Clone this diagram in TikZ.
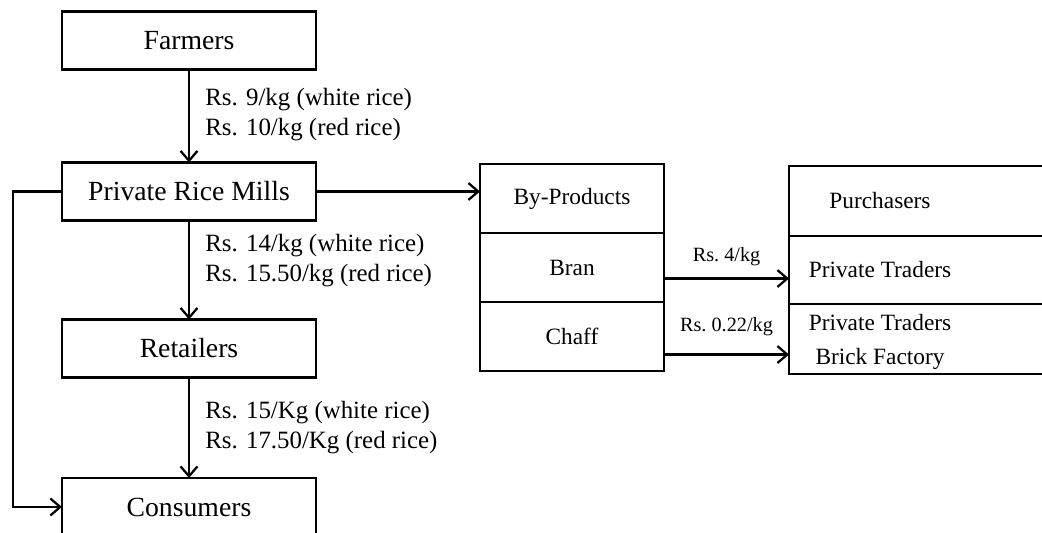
\documentclass[tikz,border=0pt]{standalone}
\usepackage{fontspec}
\setmainfont{Liberation Serif}
\usetikzlibrary{arrows.meta, positioning, calc}

\begin{document}
\begin{tikzpicture}[
    x=0.025cm, y=-0.025cm, % one unit = one pixel of the scan, y runs down
    >={Straight Barb[length=7pt, width=12pt]},
    box/.style={draw, line width=1.7pt, outer sep=0pt, minimum width=6.35cm, minimum height=1.45cm,
        font=\fontsize{19.7}{23}\selectfont},
    cell/.style={draw, line width=1.7pt, outer sep=0pt, minimum width=4.6cm, minimum height=1.725cm,
        font=\fontsize{16.6}{20}\selectfont},
    frame/.style={line width=1.7pt},
    flow/.style={->, line width=1.6pt},
    price/.style={anchor=west, align=left, inner sep=0pt, font=\fontsize{17.7}{21.3}\selectfont},
    small/.style={font=\fontsize{14.4}{17}\selectfont}
]

    % === PAGE (the scan cuts the last boxes off) ===
    \useasboundingbox (0,0) rectangle (1042,533);
    \clip (0,0) rectangle (1042,533);

    % === 1. RICE CHAIN ===
    \node[box] (farm) at (189,40.5) {Farmers};
    \node[box] (mill) at (189,191.5) {Private Rice Mills};
    \node[box] (ret)  at (189,348.5) {Retailers};
    \node[box] (cons) at (189,507) {Consumers};

    \draw[flow] (farm) -- (mill);
    \draw[flow] (mill) -- (ret);
    \draw[flow] (ret) -- (cons);
    % mills also sell straight to consumers
    \draw[flow] (mill.west) -- ++(-49,0) |- (cons.west);

    % prices along the chain
    \node[price] (priceA) at (205,115) {Rs. 9/kg (white rice)\\Rs. 10/kg (red rice)};
    \node[price] (priceB) at (205,261) {Rs. 14/kg (white rice)\\Rs. 15.50/kg (red rice)};
    \node[price] (priceC) at (205,428) {Rs. 15/Kg (white rice)\\Rs. 17.50/Kg (red rice)};


    % === 2. BY-PRODUCTS TABLE ===
    \node[cell] (byp) at (572,198.5) {By-Products};
    \node[cell, below=0pt of byp] (bran) {Bran};
    \node[cell, below=0pt of bran] (chaff) {Chaff};

    \draw[flow] (mill.east) -- (mill.east -| byp.west);


    % === 3. PURCHASERS TABLE (open to the right) ===
    \coordinate (purNW) at (789,166);
    \draw[frame] (1060,166) -- (purNW) -- (789,374) -- (1060,374);
    \draw[frame] (789,236) -- (1060,236) (789,304) -- (1060,304);

    \node[cell, draw=none] (pur) at (880,201) {Purchasers};
    \node[cell, draw=none] (trd) at (880,270) {Private Traders};
    \node[cell, draw=none, align=center, inner sep=1pt,
        font=\fontsize{16.6}{24.5}\selectfont] (buy) at (880,342) {Private Traders\\Brick Factory};


    % === 4. BY-PRODUCT SALES ===
    \coordinate (branOut) at ($(bran.east)+(0,11)$);
    \coordinate (chaffOut) at ($(chaff.east)+(0,18)$);

    \draw[flow] (branOut) -- (branOut -| purNW) node[midway, above=5pt, small] (priceBran) {Rs.~4/kg};
    \draw[flow] (chaffOut) -- (chaffOut -| purNW) node[midway, above=9pt, small] (priceChaff) {Rs.~0.22/kg};

\end{tikzpicture}
\end{document}
